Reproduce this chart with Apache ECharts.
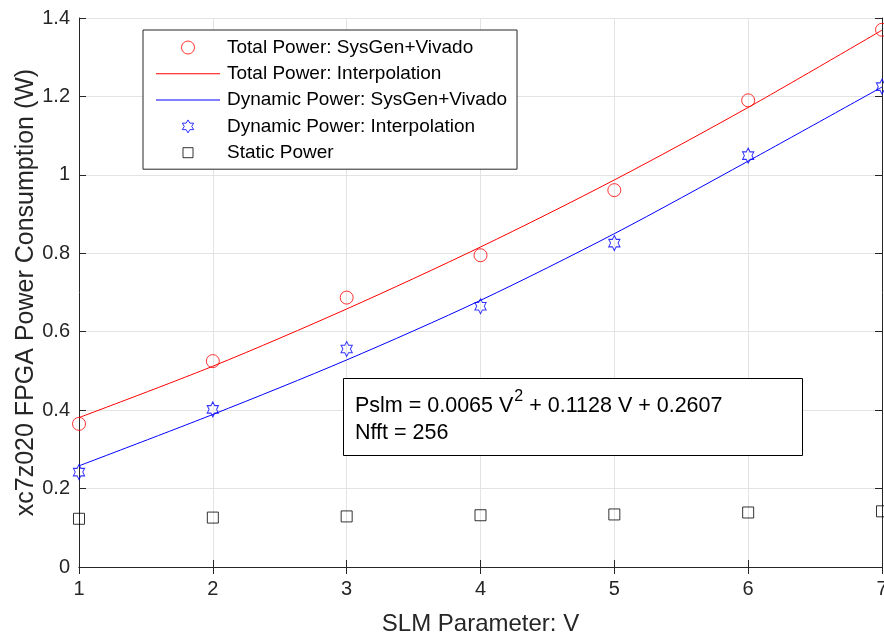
<!DOCTYPE html>
<html>
<head>
<meta charset="utf-8">
<script src="https://cdn.jsdelivr.net/npm/echarts@6/dist/echarts.min.js"></script>
<style>
html, body { margin: 0; padding: 0; background: #fff; }
#chart { width: 884px; height: 633px; }
</style>
</head>
<body>
<div id="chart"></div>
<script>
// values
var slmV = [1, 2, 3, 4, 5, 6, 7];
var totalMeasured = [0.365, 0.525, 0.687, 0.795, 0.961, 1.190, 1.370];
var totalFit = [0.381, 0.512, 0.658, 0.816, 0.987, 1.172, 1.369];
var dynamicFit = [0.258, 0.389, 0.528, 0.680, 0.850, 1.035, 1.224];
var dynamicMeasured = [0.242, 0.402, 0.556, 0.665, 0.826, 1.049, 1.225];
var staticPower = [0.123, 0.126, 0.129, 0.132, 0.134, 0.139, 0.142];

var names = [
    "Total Power: SysGen+Vivado",
    "Total Power: Interpolation",
    "Dynamic Power: SysGen+Vivado",
    "Dynamic Power: Interpolation",
    "Static Power"
];
var fitLine = ["Pslm = 0.0065 V", "2", " + 0.1128 V + 0.2607"];
var nfftLine = "Nfft = 256";

var FONT = "'Liberation Sans', Arial, Helvetica, sans-serif";
var AXIS_COLOR = "#262626";
var hexagram = "path://M100,0 L128.9,50 L186.6,50 L157.7,100 L186.6,150 L128.9,150 L100,200 L71.1,150 L13.4,150 L42.3,100 L13.4,50 L71.1,50 Z";
var lineIcon = "path://M0,0 H64 V1 H0 Z";
var squareIcon = "path://M0,0 M13,13 M1.5,1.5 H11.5 V11.5 H1.5 Z";

function pairs (ys) {
    return slmV.map(function (v, i) { return [v, ys[i]]; });
}

// width of a piece of text, used to place the superscript
function textWidth (str, size) {
    var ctx = document.createElement("canvas").getContext("2d");
    ctx.font = size + "px " + FONT;
    return ctx.measureText(str).width;
}

var annFont = 21.5;
var supFont = 16;
var annX = 355;
var w1 = textWidth(fitLine[0], annFont);
var w2 = textWidth(fitLine[1], supFont);

var chart = echarts.init(document.getElementById("chart"));

var baseX = {
    type: "value", min: 1, max: 7, interval: 1,
    axisLine: { show: true, lineStyle: { color: AXIS_COLOR, width: 1 } },
    axisTick: { show: true, inside: true, length: 7, lineStyle: { color: AXIS_COLOR } }
};
var baseY = {
    type: "value", min: 0, max: 1.4, interval: 0.2,
    axisLine: { show: true, lineStyle: { color: AXIS_COLOR, width: 1 } },
    axisTick: { show: true, inside: true, length: 7, lineStyle: { color: AXIS_COLOR } }
};

var option = {
    animation: false,
    backgroundColor: "#fff",
    textStyle: { fontFamily: FONT },
    grid: { left: 79, right: 2, top: 18, bottom: 66, containLabel: false, outerBoundsMode: "none" },
    xAxis: [
        Object.assign({}, baseX, {
            position: "bottom",
            name: "SLM Parameter: V",
            nameLocation: "middle",
            nameGap: 45,
            nameMoveOverlap: false,
            nameTextStyle: { fontSize: 24, color: AXIS_COLOR, fontFamily: FONT },
            axisLabel: { fontSize: 20, color: AXIS_COLOR, margin: 12, fontFamily: FONT },
            splitLine: { show: true, lineStyle: { color: "#e3e3e3", width: 1 } }
        }),
        Object.assign({}, baseX, {
            position: "top",
            axisLabel: { show: false },
            splitLine: { show: false }
        })
    ],
    yAxis: [
        Object.assign({}, baseY, {
            position: "left",
            name: "xc7z020 FPGA Power Consumption (W)",
            nameLocation: "middle",
            nameGap: 40,
            nameMoveOverlap: false,
            nameTextStyle: { fontSize: 25, color: AXIS_COLOR, fontFamily: FONT },
            axisLabel: { fontSize: 20, color: AXIS_COLOR, margin: 9, fontFamily: FONT },
            splitLine: { show: true, lineStyle: { color: "#e3e3e3", width: 1 } }
        }),
        Object.assign({}, baseY, {
            position: "right",
            axisLabel: { show: false },
            splitLine: { show: false }
        })
    ],
    legend: {
        orient: "vertical",
        left: 143,
        top: 30,
        padding: [8, 10, 7, 13],
        itemWidth: 64,
        itemHeight: 13,
        itemGap: 7.3,
        backgroundColor: "#fff",
        borderColor: AXIS_COLOR,
        borderWidth: 1,
        borderRadius: 0,
        itemStyle: { borderWidth: 1 },
        textStyle: { fontSize: 19, color: "#000", fontFamily: FONT, padding: [0, 0, 0, 2] },
        data: [
            { name: names[0] },
            { name: names[1], icon: lineIcon },
            { name: names[2], icon: lineIcon },
            { name: names[3] },
            { name: names[4], icon: squareIcon }
        ]
    },
    series: [
        {
            name: names[0],
            type: "scatter",
            data: pairs(totalMeasured),
            symbol: "circle",
            symbolSize: 13,
            itemStyle: { color: "transparent", borderColor: "#ff0000", borderWidth: 1 },
            z: 5
        },
        {
            name: names[1],
            type: "line",
            data: pairs(totalFit),
            symbol: "none",
            smooth: 0.3,
            lineStyle: { color: "#ff0000", width: 1 },
            itemStyle: { color: "#ff0000" },
            z: 4
        },
        {
            name: names[2],
            type: "line",
            data: pairs(dynamicFit),
            symbol: "none",
            smooth: 0.3,
            lineStyle: { color: "#0000ff", width: 1 },
            itemStyle: { color: "#0000ff" },
            z: 4
        },
        {
            name: names[3],
            type: "scatter",
            data: pairs(dynamicMeasured),
            symbol: hexagram,
            symbolKeepAspect: true,
            symbolSize: [13, 15],
            itemStyle: { color: "transparent", borderColor: "#0000ff", borderWidth: 1 },
            z: 5
        },
        {
            name: names[4],
            type: "scatter",
            data: pairs(staticPower),
            symbol: "rect",
            symbolSize: 11,
            itemStyle: { color: "transparent", borderColor: "#000", borderWidth: 1 },
            z: 5
        }
    ],
    graphic: [
        {
            type: "rect",
            shape: { x: 343.5, y: 378.5, width: 459, height: 77 },
            style: { fill: "#fff", stroke: "#000", lineWidth: 1 },
            z: 10
        },
        {
            type: "text", x: annX, y: 406, z: 11,
            style: { text: fitLine[0], font: annFont + "px " + FONT, fill: "#000", verticalAlign: "middle" }
        },
        {
            type: "text", x: annX + w1 + 1, y: 397, z: 11,
            style: { text: fitLine[1], font: supFont + "px " + FONT, fill: "#000", verticalAlign: "middle" }
        },
        {
            type: "text", x: annX + w1 + w2 + 1, y: 406, z: 11,
            style: { text: fitLine[2], font: annFont + "px " + FONT, fill: "#000", verticalAlign: "middle" }
        },
        {
            type: "text", x: annX, y: 433, z: 11,
            style: { text: nfftLine, font: annFont + "px " + FONT, fill: "#000", verticalAlign: "middle" }
        }
    ]
};

chart.setOption(option);
</script>
</body>
</html>
